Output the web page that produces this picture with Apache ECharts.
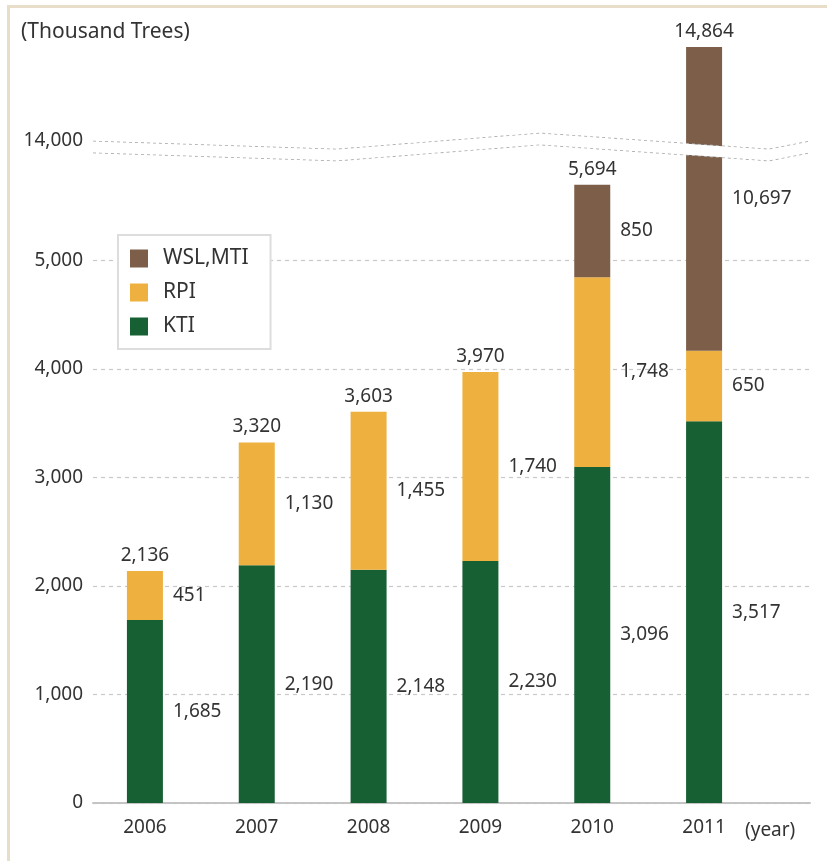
<!DOCTYPE html>
<html>
<head>
<meta charset="utf-8">
<script src="https://cdn.jsdelivr.net/npm/echarts@6/dist/echarts.min.js"></script>
<style>
  html, body { margin: 0; padding: 0; background: #ffffff; }
  #frame { position: absolute; left: 7px; top: 5px; width: 830px; height: 870px;
           border-top: 3px solid #e7ddc9; border-left: 3px solid #e7ddc9; z-index: 0; }
  #chart { position: absolute; left: 0; top: 0; width: 827px; height: 861px; z-index: 1; }
</style>
</head>
<body>
<div id="frame"></div>
<div id="chart"></div>
<script>
// ---- data ----
const years  = ['2006', '2007', '2008', '2009', '2010', '2011'];
const kti    = [1685, 2190, 2148, 2230, 3096, 3517];
const rpi    = [451, 1130, 1455, 1740, 1748, 650];
const wslMti = [null, null, null, null, 850, 10697];
const totals = [2136, 3320, 3603, 3970, 5694, 14864];
const seriesNames = ['WSL,MTI', 'RPI', 'KTI'];
const yUnit = '(Thousand Trees)';
const xUnit = '(year)';

const colors = { wsl: '#7d5e48', rpi: '#eeb03e', kti: '#176034' };
const FONT = '"Noto Sans", "Open Sans", sans-serif';
const TXT = '#333333';
const fmt = v => (v == null ? '' : Number(v).toLocaleString('en-US'));

const yMax = 14864;
const axisBreaks = [{ start: 5990, end: 14000, gap: 110 }];
const gridTop = 47, gridBottom = 58;

const chart = echarts.init(document.getElementById('chart'), null, { renderer: 'canvas' });

const segLabel = {
  show: true, position: 'right', distance: 10,
  color: TXT, fontSize: 19, fontFamily: FONT,
  formatter: p => fmt(p.value)
};

const option = {
  animation: false,
  title: [
    { text: yUnit, left: 16, top: 17,
      textStyle: { color: TXT, fontSize: 21, fontWeight: 'normal', fontFamily: FONT } },
    { text: xUnit, left: 740, top: 816,
      textStyle: { color: TXT, fontSize: 19, fontWeight: 'normal', fontFamily: FONT } }
  ],
  legend: {
    data: seriesNames,
    orient: 'vertical',
    left: 118, top: 235,
    backgroundColor: '#ffffff',
    borderColor: '#dddddd', borderWidth: 2,
    padding: [13, 22, 12, 12],
    itemWidth: 18, itemHeight: 18, itemGap: 13,
    icon: 'rect',
    textStyle: { color: TXT, fontSize: 21, fontFamily: FONT, padding: [0, 0, 0, 10] },
    selectedMode: false
  },
  grid: [
    { left: 89, right: 67, top: gridTop, bottom: gridBottom },   // bars
    { left: 93, right: 17, top: gridTop, bottom: gridBottom }    // gridlines / y labels
  ],
  xAxis: [
    { type: 'category', gridIndex: 0, data: years,
      axisLine: { show: false }, axisTick: { show: false },
      axisLabel: { color: TXT, fontSize: 19, fontFamily: FONT, margin: 15 } },
    { type: 'value', gridIndex: 1, min: 0, max: 1,
      axisLine: { show: true, lineStyle: { color: '#c4c4c4', width: 2 } },
      axisTick: { show: false }, axisLabel: { show: false }, splitLine: { show: false } }
  ],
  yAxis: [
    { type: 'value', gridIndex: 0, min: 0, max: yMax, interval: 1000,
      breaks: axisBreaks, show: false,
      splitLine: { show: false } },
    { type: 'value', gridIndex: 1, min: 0, max: yMax, interval: 1000,
      breaks: axisBreaks,
      breakArea: {
        show: true,
        itemStyle: { color: '#ffffff', borderColor: '#a8a8a8', borderWidth: 1.6, opacity: 1 },
        zigzagAmplitude: 8, zigzagMinSpan: 200, zigzagMaxSpan: 260, zigzagZ: 100,
        expandOnClick: false
      },
      axisLine: { show: false }, axisTick: { show: false },
      axisLabel: {
        color: TXT, fontSize: 19, fontFamily: FONT, margin: 10, showMaxLabel: false,
        formatter: v => (v % 1000 === 0 ? fmt(v) : '')
      },
      splitLine: { show: true, showMaxLine: false,
        lineStyle: { color: '#c8c8c8', type: [4, 4], width: 1.2 } }
    }
  ],
  series: [
    { name: 'KTI', type: 'bar', stack: 'total', xAxisIndex: 0, yAxisIndex: 0,
      barWidth: 36, data: kti, itemStyle: { color: colors.kti }, label: segLabel },
    { name: 'RPI', type: 'bar', stack: 'total', xAxisIndex: 0, yAxisIndex: 0,
      barWidth: 36, data: rpi, itemStyle: { color: colors.rpi }, label: segLabel },
    { name: 'WSL,MTI', type: 'bar', stack: 'total', xAxisIndex: 0, yAxisIndex: 0,
      barWidth: 36, data: wslMti, itemStyle: { color: colors.wsl }, label: segLabel },
    { name: 'total', type: 'scatter', xAxisIndex: 0, yAxisIndex: 0,
      data: totals, symbolSize: 0, itemStyle: { color: '#333333', opacity: 1 },
      label: { show: true, position: 'top', distance: 6, color: TXT, opacity: 1,
               fontSize: 19, fontFamily: FONT, formatter: p => fmt(p.value) },
      emphasis: { disabled: true },
      z: 5 }
  ]
};
chart.setOption(option);
</script>
</body>
</html>
